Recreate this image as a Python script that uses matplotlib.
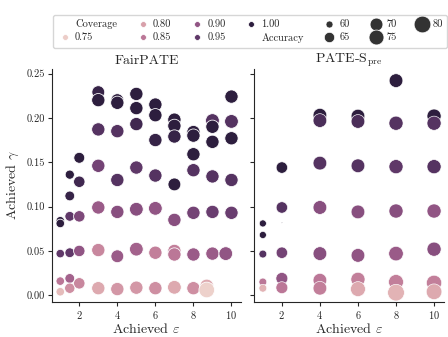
import matplotlib
matplotlib.use("Agg")
import matplotlib.pyplot as plt
from matplotlib.lines import Line2D
import numpy as np
import pandas as pd
import seaborn as sns

# FairPATE: achieved epsilon, achieved gamma, coverage, accuracy
fair_eps = [1, 1, 1, 1, 1,
            1.5, 1.5, 1.5, 1.5, 1.5, 1.5,
            2, 2, 2, 2, 2,
            3, 3, 3, 3, 3, 3, 3,
            4, 4, 4, 4, 4, 4, 4,
            5, 5, 5, 5, 5, 5, 5,
            6, 6, 6, 6, 6, 6, 6,
            7, 7, 7, 7, 7, 7, 7, 7,
            8, 8, 8, 8, 8, 8, 8,
            8.7, 8.7,
            9, 9, 9, 9, 9, 9,
            9.7,
            10, 10, 10, 10, 10]
fair_gamma = [0.084, 0.081, 0.047, 0.016, 0.004,
              0.136, 0.112, 0.089, 0.048, 0.019, 0.008,
              0.155, 0.128, 0.089, 0.050, 0.0135,
              0.229, 0.220, 0.187, 0.146, 0.099, 0.051, 0.008,
              0.220, 0.217, 0.185, 0.130, 0.094, 0.044, 0.007,
              0.227, 0.211, 0.193, 0.144, 0.097, 0.052, 0.0086,
              0.215, 0.203, 0.175, 0.135, 0.098, 0.048, 0.008,
              0.198, 0.191, 0.179, 0.125, 0.085, 0.050, 0.046, 0.009,
              0.184, 0.180, 0.159, 0.141, 0.093, 0.046, 0.008,
              0.0105, 0.006,
              0.197, 0.190, 0.173, 0.134, 0.094, 0.047,
              0.047,
              0.224, 0.196, 0.177, 0.130, 0.093]
fair_cov = [1.00, 1.00, 0.95, 0.85, 0.77,
            1.00, 0.99, 0.95, 0.95, 0.88, 0.82,
            1.00, 0.98, 0.92, 0.90, 0.83,
            0.99, 1.00, 0.96, 0.93, 0.89, 0.83, 0.79,
            1.00, 1.00, 0.96, 0.96, 0.91, 0.89, 0.81,
            1.00, 1.00, 0.98, 0.95, 0.91, 0.88, 0.81,
            1.00, 1.00, 0.99, 0.96, 0.90, 0.84, 0.82,
            1.00, 1.00, 0.99, 1.00, 0.91, 0.84, 0.85, 0.79,
            1.00, 1.00, 1.00, 0.96, 0.93, 0.89, 0.82,
            0.79, 0.745,
            0.96, 1.00, 1.00, 0.96, 0.94, 0.89,
            0.90,
            1.00, 0.96, 1.00, 0.96, 0.94]
fair_acc = [62, 62, 62, 62, 62,
            63, 64, 64, 64, 64, 65,
            66, 67, 67, 67, 67,
            70, 71, 71, 71, 71, 71, 71,
            70, 71, 71, 71, 71, 70, 71,
            71, 71, 71, 71, 72, 72, 71,
            71, 71, 71, 71, 72, 71, 71,
            71, 71, 71, 70, 71, 71, 71, 72,
            71, 71, 71, 71, 71, 71, 71,
            72, 77,
            72, 71, 71, 71, 71, 71,
            72,
            71, 72, 71, 71, 71]

# PATE-S_pre
pre_eps = [1, 1, 1, 1, 1,
           2, 2, 2, 2, 2, 2,
           4, 4, 4, 4, 4, 4, 4,
           6, 6, 6, 6, 6, 6, 6,
           8, 8, 8, 8, 8, 8, 8,
           10, 10, 10, 10, 10, 10, 10]
pre_gamma = [0.081, 0.068, 0.0465, 0.015, 0.008,
             0.144, 0.099, 0.082, 0.048, 0.019, 0.0086,
             0.203, 0.197, 0.149, 0.099, 0.047, 0.017, 0.008,
             0.202, 0.196, 0.146, 0.094, 0.045, 0.018, 0.007,
             0.242, 0.194, 0.145, 0.095, 0.047, 0.015, 0.003,
             0.202, 0.194, 0.145, 0.095, 0.052, 0.014, 0.004]
pre_cov = [1.00, 1.00, 0.96, 0.85, 0.78,
           1.00, 0.96, 1.00, 0.93, 0.90, 0.85,
           1.00, 0.97, 0.96, 0.91, 0.91, 0.85, 0.84,
           1.00, 0.97, 0.96, 0.91, 0.90, 0.84, 0.79,
           1.00, 0.96, 0.95, 0.91, 0.89, 0.84, 0.78,
           1.00, 0.96, 0.96, 0.90, 0.91, 0.84, 0.79]
pre_acc = [60, 60, 61, 61, 61,
           67, 67, 55.8, 67, 68, 68,
           72, 72, 72, 72, 72, 72, 72,
           72, 72, 72, 72, 72, 73, 75,
           72, 73, 73, 73, 74, 75, 80,
           73, 73, 73, 73, 73, 76, 77]

titles = ["FairPATE", r"PATE-S$_{\rm pre}$"]
cov_levels = [0.75, 0.80, 0.85, 0.90, 0.95, 1.00]
acc_levels = [60, 65, 70, 75, 80]

sns.set_style("ticks")
plt.rcParams["font.family"] = ["cmr10"]
plt.rcParams["mathtext.fontset"] = "cm"
plt.rcParams["axes.formatter.use_mathtext"] = True

df_fair = pd.DataFrame({"eps": fair_eps, "gamma": fair_gamma,
                        "Coverage": fair_cov, "Accuracy": fair_acc})
df_pre = pd.DataFrame({"eps": pre_eps, "gamma": pre_gamma,
                       "Coverage": pre_cov, "Accuracy": pre_acc})

hue_norm = matplotlib.colors.Normalize(min(fair_cov + pre_cov), max(fair_cov + pre_cov))
size_norm = (55.7, 80)
size_range = (0, 145)
cmap = sns.cubehelix_palette(as_cmap=True)

fig = plt.figure(figsize=(4.48, 3.37), dpi=100)
ax1 = fig.add_axes([0.1154, 0.104, 0.4225, 0.691])
ax2 = fig.add_axes([0.5676, 0.104, 0.4225, 0.691], sharey=ax1)

for ax, df, title in [(ax1, df_fair, titles[0]), (ax2, df_pre, titles[1])]:
    sns.scatterplot(data=df, x="eps", y="gamma", hue="Coverage", size="Accuracy",
                    hue_norm=hue_norm, palette=cmap, size_norm=size_norm,
                    sizes=size_range, ax=ax, legend=False)
    ax.set_title(title, fontsize=10, pad=4)
    ax.set_xlabel(r"Achieved $\varepsilon$", fontsize=10, labelpad=1)
    ax.set_xticks([2, 4, 6, 8, 10])
    ax.tick_params(labelsize=7.5, length=3, pad=2)
    ax.set_xlim(0.55, 10.5)

ax1.set_ylim(-0.0075, 0.255)
ax1.set_yticks([0.0, 0.05, 0.10, 0.15, 0.20, 0.25])
ax1.yaxis.set_major_formatter(matplotlib.ticker.FormatStrFormatter("%.2f"))
ax1.set_ylabel(r"Achieved $\gamma$", fontsize=10, labelpad=4)
ax2.set_ylabel("")
ax2.tick_params(labelleft=False)
sns.despine(fig)

# legend: coverage (hue) then accuracy (size)
handles = [Line2D([], [], linestyle="none")]
labels = ["Coverage"]
for c in cov_levels:
    handles.append(Line2D([], [], linestyle="none", marker="o", markersize=4.2,
                          markerfacecolor=cmap(hue_norm(c)), markeredgecolor="w",
                          markeredgewidth=0.5))
    labels.append(f"{c:.2f}")
handles.append(Line2D([], [], linestyle="none"))
labels.append("Accuracy")
for a in acc_levels:
    s = size_range[0] + (a - size_norm[0]) / (size_norm[1] - size_norm[0]) * (size_range[1] - size_range[0])
    handles.append(Line2D([], [], linestyle="none", marker="o", markersize=np.sqrt(s),
                          markerfacecolor=".2", markeredgecolor="w", markeredgewidth=0.5))
    labels.append(str(a))

fig.legend(handles, labels, loc="upper left", bbox_to_anchor=(0.106, 0.972),
           ncol=7, fontsize=7.5, frameon=True, columnspacing=1.75,
           handletextpad=0.3, handlelength=1.4, borderpad=0.45, labelspacing=0.35,
           edgecolor="#cccccc", fancybox=True)

fig.savefig("out.png", dpi=100)
